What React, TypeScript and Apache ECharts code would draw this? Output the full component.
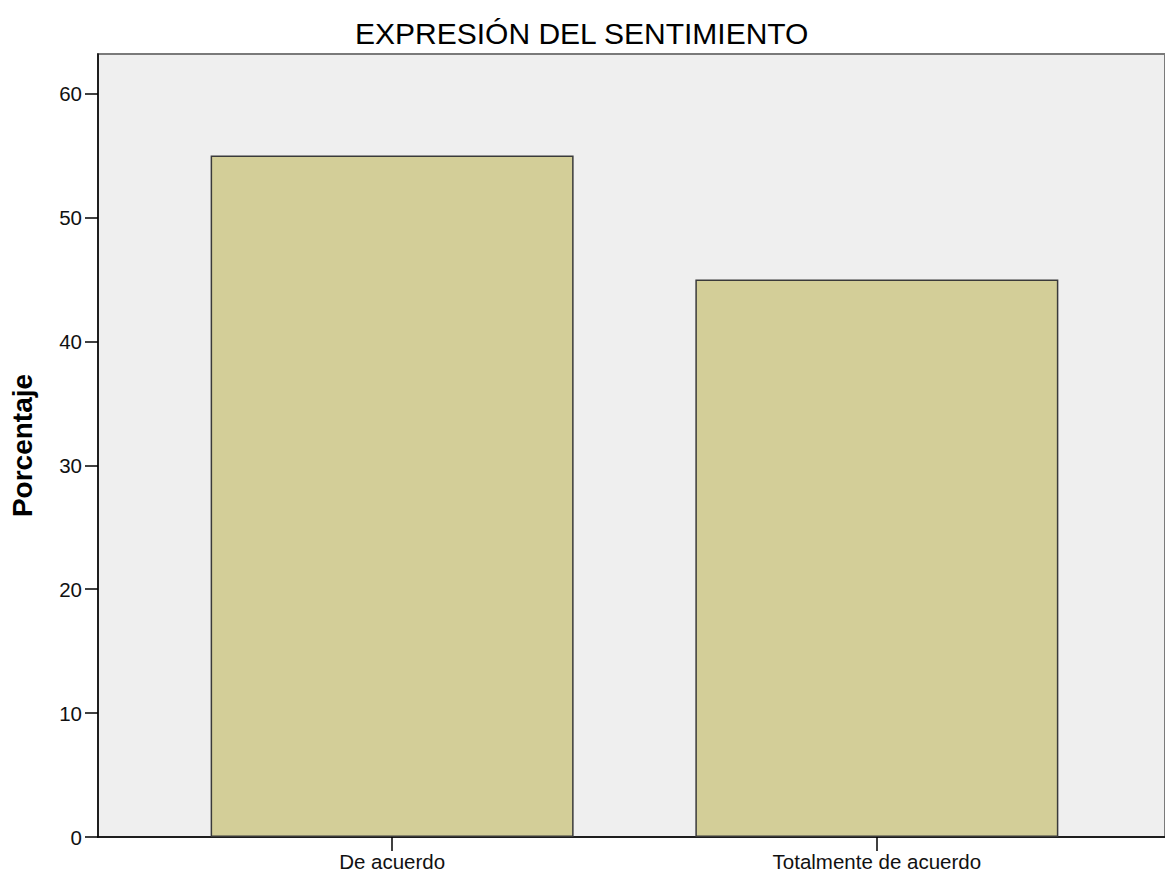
import React, { useEffect, useRef } from "react";
import * as echarts from "echarts";

const title = "EXPRESIÓN DEL SENTIMIENTO";
const categories = ["De acuerdo", "Totalmente de acuerdo"];
const values = [55, 45];
const yTicks = [0, 10, 20, 30, 40, 50, 60];
const yName = "Porcentaje";

export default function App() {
  const ref = useRef<HTMLDivElement>(null);
  useEffect(() => {
    if (!ref.current) return;
    const chart = echarts.init(ref.current, undefined, { renderer: "svg" });
    const gridLeft = 96;
    const gridRight = -3;
    const width = 1165;
    const c0 = 391.5;
    const unit = 487;
    const xMin = -(c0 - gridLeft) / unit;
    const xMax = (width - gridRight - c0) / unit;
    chart.setOption({
      animation: false,
      backgroundColor: "#ffffff",
      title: {
        text: title,
        left: 350,
        top: 13,
        textStyle: {
          fontFamily: "Liberation Sans, Arial, sans-serif",
          fontSize: 30,
          fontWeight: "normal",
          color: "#000",
        },
      },
      grid: {
        left: gridLeft,
        right: gridRight,
        top: 54,
        bottom: 36,
        show: true,
        backgroundColor: "#EFEFEF",
        borderColor: "#7a7a7a",
        borderWidth: 2,
      },
      xAxis: {
        type: "value",
        min: xMin,
        max: xMax,
        splitLine: { show: false },
        axisLine: { show: true, onZero: false, lineStyle: { color: "#000", width: 1.5 } },
        axisTick: {
          show: true,
          length: 14,
          customValues: categories.map((_, i) => i),
          lineStyle: { color: "#000", width: 1.5 },
        },
        axisLabel: {
          customValues: categories.map((_, i) => i),
          formatter: (v: number) => categories[Math.round(v)] ?? "",
          fontFamily: "Liberation Sans, Arial, sans-serif",
          fontSize: 20.5,
          color: "#111",
          margin: 14,
        },
      },
      yAxis: {
        type: "value",
        min: 0,
        max: 63.2,
        interval: 10,
        name: yName,
        nameLocation: "middle",
        nameGap: 62,
        nameTextStyle: {
          fontFamily: "Liberation Sans, Arial, sans-serif",
          fontSize: 28,
          fontWeight: "bold",
          color: "#000",
        },
        splitLine: { show: false },
        axisLine: { show: true, onZero: false, lineStyle: { color: "#000", width: 1.5 } },
        axisTick: {
          show: true,
          length: 13,
          customValues: yTicks,
          lineStyle: { color: "#000", width: 1.5 },
        },
        axisLabel: {
          customValues: yTicks,
          fontFamily: "Liberation Sans, Arial, sans-serif",
          fontSize: 20.5,
          color: "#111",
          margin: 16,
        },
      },
      series: [
        {
          type: "bar",
          data: values.map((v, i) => [i, v]),
          barWidth: 363,
          itemStyle: {
            color: "#D3CE98",
            borderColor: "#3a3a3a",
            borderWidth: 1.5,
          },
        },
      ],
    });
    return () => chart.dispose();
  }, []);
  return (
    <div
      ref={ref}
      style={{ position: "fixed", left: 0, top: 0, width: 1165, height: 873 }}
    />
  );
}
